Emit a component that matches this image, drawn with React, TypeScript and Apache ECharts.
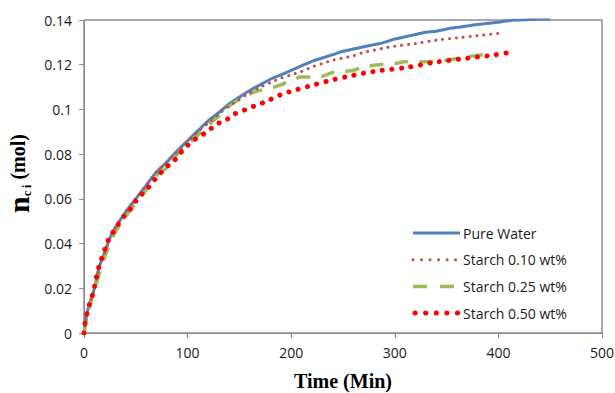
import React, { useEffect, useRef } from "react";
import * as echarts from "echarts";

const seriesNames = ["Pure Water", "Starch 0.10 wt%", "Starch 0.25 wt%", "Starch 0.50 wt%"];
const seriesColors = ["#4F81BD", "#C0504D", "#9BBB59", "#FF0000"];

const xTicks = [0, 100, 200, 300, 400, 500];
const yTicks = [0, 0.02, 0.04, 0.06, 0.08, 0.1, 0.12, 0.14];

const pureWaterT = [0, 1, 3, 6, 10, 15, 20, 25, 30, 40, 50, 60, 70, 80, 90, 100, 110, 120, 130, 140, 150, 160, 170, 180, 190, 200, 210, 220, 230, 240, 250, 260, 270, 280, 290, 300, 310, 320, 330, 340, 350, 360, 370, 380, 390, 400, 410, 420, 430, 440, 450];
const pureWaterN = [0, 0.004, 0.009, 0.014, 0.02, 0.03, 0.036, 0.0425, 0.047, 0.054, 0.06, 0.066, 0.072, 0.0765, 0.0815, 0.086, 0.0905, 0.095, 0.0985, 0.1025, 0.1055, 0.1085, 0.111, 0.1135, 0.1155, 0.1175, 0.1195, 0.1215, 0.123, 0.1245, 0.126, 0.127, 0.128, 0.129, 0.13, 0.1315, 0.1325, 0.1335, 0.1345, 0.135, 0.136, 0.1367, 0.1373, 0.138, 0.1385, 0.139, 0.1397, 0.14, 0.1402, 0.1404, 0.1405];

const starch010T = [0, 1, 3, 6, 10, 15, 20, 25, 30, 40, 50, 60, 70, 80, 90, 100, 110, 120, 130, 140, 150, 160, 170, 180, 190, 200, 210, 220, 230, 240, 250, 260, 270, 280, 290, 300, 320, 340, 360, 380, 403];
const starch010N = [0, 0.004, 0.009, 0.014, 0.02, 0.03, 0.036, 0.0425, 0.047, 0.054, 0.06, 0.066, 0.072, 0.0765, 0.081, 0.0855, 0.09, 0.094, 0.098, 0.1015, 0.1045, 0.1075, 0.11, 0.112, 0.114, 0.1155, 0.117, 0.119, 0.1205, 0.122, 0.123, 0.124, 0.1255, 0.1265, 0.1275, 0.1283, 0.1295, 0.131, 0.132, 0.133, 0.1342];

const starch025T = [0, 2, 5, 10, 15, 20, 25, 30, 40, 50, 60, 70, 80, 90, 100, 110, 120, 130, 140, 150, 160, 170, 180, 190, 200, 210, 220, 230, 240, 250, 260, 270, 285, 300, 310, 337, 360, 382, 389];
const starch025N = [0, 0.005, 0.011, 0.019, 0.027, 0.034, 0.04, 0.045, 0.052, 0.058, 0.064, 0.0705, 0.074, 0.08, 0.0845, 0.0885, 0.093, 0.097, 0.1015, 0.1045, 0.107, 0.1085, 0.1095, 0.111, 0.113, 0.1145, 0.1145, 0.1148, 0.1165, 0.117, 0.1175, 0.119, 0.12, 0.1205, 0.1213, 0.1213, 0.1228, 0.1243, 0.1245];

const starch050T = [0, 1, 3, 6, 9, 11, 13, 15.4, 19, 22, 27, 32.5, 38, 44, 50, 56, 62, 68, 74, 80, 87, 93, 99, 106, 114, 121, 128, 136, 143, 151, 159, 167, 175, 189, 205, 221, 238, 254, 270, 286, 312, 337, 366, 395, 413];
const starch050N = [0, 0.0045, 0.009, 0.014, 0.0183, 0.0228, 0.027, 0.0314, 0.0357, 0.0402, 0.0442, 0.0483, 0.0518, 0.055, 0.059, 0.0622, 0.065, 0.0684, 0.0716, 0.0744, 0.0771, 0.0805, 0.0835, 0.0863, 0.0886, 0.0908, 0.0935, 0.0948, 0.0975, 0.099, 0.1005, 0.102, 0.1034, 0.1064, 0.1088, 0.1109, 0.113, 0.1147, 0.1162, 0.1174, 0.1188, 0.121, 0.1227, 0.1243, 0.1257];

const zip = (t: number[], n: number[]) => t.map((v, i) => [v, n[i]]);

const lineStyles = [
  { width: 3, lineDash: null as number[] | null, cap: "butt" },
  { width: 3, lineDash: [0.1, 6.8], cap: "round" },
  { width: 3.5, lineDash: [14, 11], cap: "butt" },
  { width: 5, lineDash: [0.1, 9.5], cap: "round" },
];

export default function App() {
  const ref = useRef<HTMLDivElement>(null);
  useEffect(() => {
    if (!ref.current) return;
    const chart = echarts.init(ref.current, null, { renderer: "svg" });
    const labelFont = "Open Sans";
    const legendX = 413;
    const legendY0 = 233;
    const legendStep = 26.7;
    const legendGraphics: any[] = [];
    seriesNames.forEach((name, i) => {
      const y = legendY0 + i * legendStep;
      const ls = lineStyles[i];
      const style: any = { stroke: seriesColors[i], lineWidth: ls.width, lineCap: ls.cap };
      if (ls.lineDash) style.lineDash = i === 1 ? [0.1, 8.4] : i === 3 ? [0.1, 10.5] : i === 2 ? [14, 13] : ls.lineDash;
      legendGraphics.push({
        type: "line",
        shape: { x1: i === 3 ? legendX + 2 : legendX, y1: y, x2: legendX + 47, y2: y },
        style,
        silent: true,
      });
      legendGraphics.push({
        type: "text",
        x: legendX + 50,
        y,
        style: {
          text: name,
          fontFamily: labelFont,
          fontSize: 14,
          fill: "#1a1a1a",
          verticalAlign: "middle",
          align: "left",
        },
        silent: true,
      });
    });
    const mkSeries = (i: number, t: number[], n: number[], z: number) => ({
      name: seriesNames[i],
      type: "line",
      data: zip(t, n),
      showSymbol: false,
      symbol: "none",
      smooth: 0.3,
      clip: true,
      lineStyle: {
        color: seriesColors[i],
        width: lineStyles[i].width,
        type: lineStyles[i].lineDash ?? "solid",
        cap: lineStyles[i].cap,
      },
      itemStyle: { color: seriesColors[i] },
      z,
    });
    chart.setOption({
      animation: false,
      grid: {
        left: 84,
        right: 13,
        top: 20,
        bottom: 60,
        show: true,
        borderColor: "#555",
        borderWidth: 1,
        backgroundColor: "transparent",
        containLabel: false,
        outerBoundsMode: "none",
      },
      xAxis: {
        type: "value",
        min: 0,
        max: 500,
        interval: 100,
        name: "Time (Min)",
        nameLocation: "middle",
        nameGap: 38,
        nameTextStyle: { fontFamily: "Liberation Serif", fontWeight: "bold", fontSize: 20, color: "#000" },
        axisLine: { show: true, lineStyle: { color: "#8c8c8c", width: 1 } },
        axisTick: { show: true, length: 5, lineStyle: { color: "#8c8c8c" } },
        axisLabel: {
          margin: 12,
          fontFamily: labelFont,
          fontSize: 14,
          color: "#1a1a1a",
          formatter: (v: number) => (xTicks.includes(v) ? String(v) : ""),
        },
        splitLine: { show: false },
      },
      yAxis: {
        type: "value",
        min: 0,
        max: 0.14,
        interval: 0.02,
        name: "{n|n}{b|c i}{a| (mol)}",
        nameLocation: "middle",
        nameGap: 50,
        nameRotate: 90,
        nameTextStyle: {
          padding: [0, 0, 0, 6],
          rich: {
            n: { fontFamily: "Liberation Serif", fontWeight: "bold", fontSize: 30, color: "#000" },
            a: { fontFamily: "Liberation Serif", fontWeight: "bold", fontSize: 20, color: "#000" },
            b: { fontFamily: "Liberation Serif", fontWeight: "bold", fontSize: 12, color: "#000", verticalAlign: "bottom", padding: [14, 0, 0, 0] },
          },
        },
        axisLine: { show: true, lineStyle: { color: "#8c8c8c", width: 1 } },
        axisTick: { show: true, length: 5, lineStyle: { color: "#8c8c8c" } },
        axisLabel: {
          margin: 12,
          fontFamily: labelFont,
          fontSize: 14,
          color: "#1a1a1a",
          formatter: (v: number) => {
            const m = yTicks.find((t) => Math.abs(t - v) < 1e-9);
            return m === undefined ? "" : String(m);
          },
        },
        splitLine: { show: false },
      },
      graphic: legendGraphics,
      series: [
        mkSeries(0, pureWaterT, pureWaterN, 2),
        mkSeries(1, starch010T, starch010N, 3),
        mkSeries(2, starch025T, starch025N, 2),
        mkSeries(3, starch050T, starch050N, 4),
      ],
    });
    return () => chart.dispose();
  }, []);
  return <div ref={ref} style={{ width: 615, height: 393, position: "absolute", left: 0, top: 0, background: "#fff" }} />;
}
